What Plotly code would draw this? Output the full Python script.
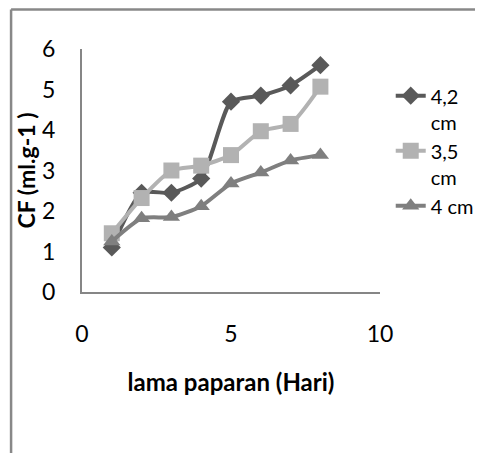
import plotly.graph_objects as go

hari = [1, 2, 3, 4, 5, 6, 7, 8]
cf_42 = [1.1, 2.45, 2.45, 2.8, 4.7, 4.85, 5.1, 5.6]
cf_35 = [1.45, 2.32, 3.0, 3.12, 3.38, 3.97, 4.15, 5.07]
cf_4 = [1.25, 1.82, 1.85, 2.12, 2.68, 2.95, 3.25, 3.38]

series = [
    ("4,2<br>cm", cf_42, "#595959", "diamond", 14),
    ("3,5<br>cm", cf_35, "#b2b2b2", "square", 16),
    ("4 cm", cf_4, "#7f7f7f", "triangle-up", 15),
]

fig = go.Figure()
for name, vals, col, sym, sz in series:
    fig.add_trace(go.Scatter(
        x=hari, y=vals, name=name, mode="lines+markers",
        line=dict(color=col, width=4, shape="spline", smoothing=0.6),
        marker=dict(symbol=sym, size=sz, color=col),
    ))

# page body adds an 8px margin, so the figure is sized to fit inside the window
font = "Lato, Arial, sans-serif"
fig.update_layout(
    width=467, height=445,
    margin=dict(l=74, r=95, t=41, b=161, autoexpand=False),
    paper_bgcolor="white", plot_bgcolor="white",
    font=dict(family=font, size=23, color="black"),
    showlegend=True,
    legend=dict(x=1.036, y=0.888, xanchor="left", yanchor="top",
                valign="top", bgcolor="rgba(0,0,0,0)", tracegroupgap=0,
                font=dict(size=20)),
    xaxis=dict(range=[0, 10], tickvals=[0, 5, 10], showgrid=False,
               zeroline=False, showline=True, linecolor="#868686", linewidth=2,
               ticks="", ticklabelstandoff=20, automargin=False,
               title=dict(text="<b>lama paparan (Hari)</b>", standoff=29,
                          font=dict(size=24))),
    yaxis=dict(range=[0, 6], tickvals=[0, 1, 2, 3, 4, 5, 6], showgrid=False,
               zeroline=False, showline=True, linecolor="#868686", linewidth=2,
               ticks="", ticklabelstandoff=20, automargin=False,
               title=dict(text="<b>CF (ml.g-1 )</b>", standoff=0,
                          font=dict(size=23))),
)

# outer frame lines (left and top) as in the source document
fig.add_shape(type="line", xref="paper", yref="paper",
              x0=-0.238, x1=-0.238, y0=1.163, y1=-0.75,
              line=dict(color="#888888", width=2.5))
fig.add_shape(type="line", xref="paper", yref="paper",
              x0=-0.238, x1=1.35, y0=1.163, y1=1.163,
              line=dict(color="#888888", width=2.5))

fig.write_html("out.html")
